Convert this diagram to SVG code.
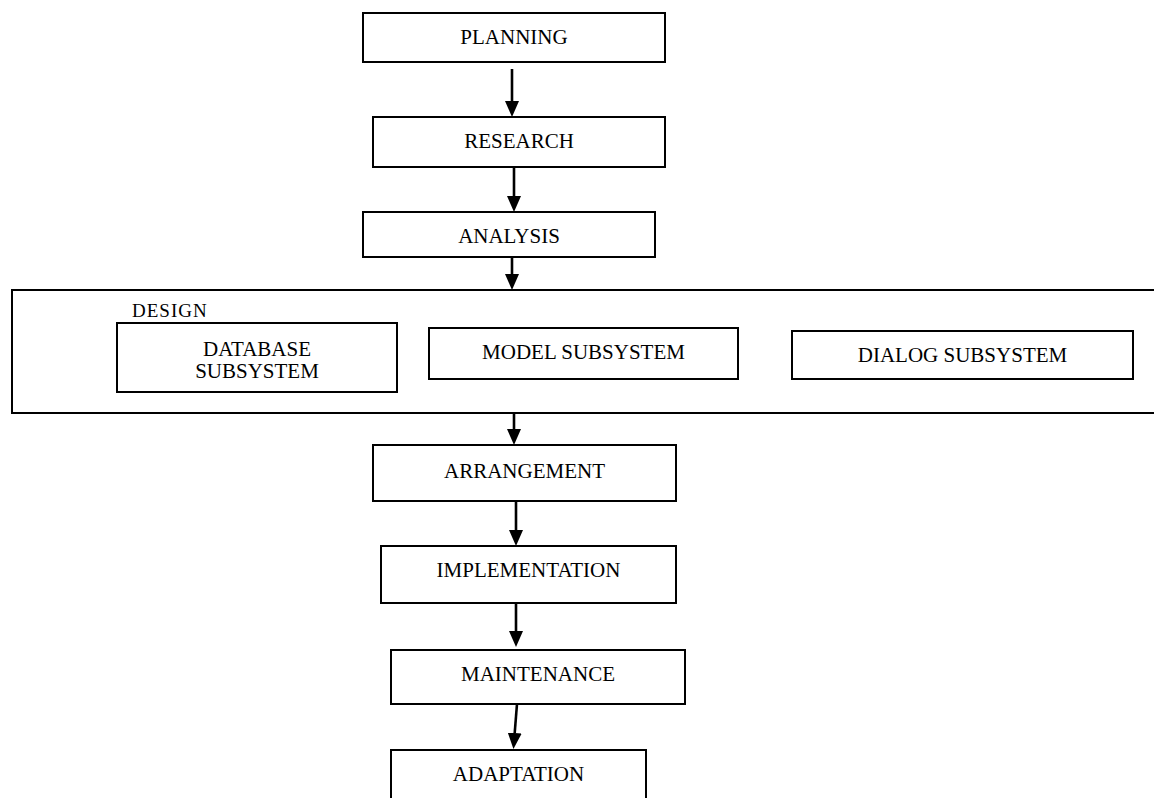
<svg xmlns="http://www.w3.org/2000/svg" width="1154" height="798" viewBox="0 0 1154 798">
<style>
.box{fill:#fff;stroke:#000;stroke-width:2}
.lbl{font-family:"Liberation Serif","Times New Roman",serif;font-size:21px;fill:#000;text-anchor:middle}
.frame{fill:none;stroke:#000;stroke-width:2}
.conn{stroke:#000;stroke-width:2.6;fill:none;marker-end:url(#ah)}
</style>
<defs>
<marker id="ah" markerUnits="userSpaceOnUse" viewBox="0 0 16 14" markerWidth="16" markerHeight="14" refX="0" refY="7" orient="auto">
<path d="M0,0 L16,7 L0,14 z" fill="#000"/>
</marker>
</defs>
<rect width="1154" height="798" fill="#fff"/>

<g id="design">
<path class="frame" d="M1154,290 L12,290 L12,413 L1154,413"/>
<text x="132" y="317" style="font-family:'Liberation Serif','Times New Roman',serif;font-size:19px;letter-spacing:1px">DESIGN</text>
</g>

<g id="planning"><rect class="box" x="363" y="13" width="302" height="49"/><text class="lbl" x="514" y="44">PLANNING</text></g>
<g id="research"><rect class="box" x="373" y="117" width="292" height="50"/><text class="lbl" x="519" y="148">RESEARCH</text></g>
<g id="analysis"><rect class="box" x="363" y="212" width="292" height="45"/><text class="lbl" x="509" y="243">ANALYSIS</text></g>
<g id="database"><rect class="box" x="117" y="323" width="280" height="69"/><text class="lbl" x="257" y="356">DATABASE</text><text class="lbl" x="257" y="378">SUBSYSTEM</text></g>
<g id="model"><rect class="box" x="429" y="328" width="309" height="51"/><text class="lbl" x="583.5" y="359">MODEL SUBSYSTEM</text></g>
<g id="dialog"><rect class="box" x="792" y="331" width="341" height="48"/><text class="lbl" x="962.5" y="362">DIALOG SUBSYSTEM</text></g>
<g id="arrangement"><rect class="box" x="373" y="445" width="303" height="56"/><text class="lbl" x="524.5" y="478">ARRANGEMENT</text></g>
<g id="implementation"><rect class="box" x="381" y="546" width="295" height="57"/><text class="lbl" x="528.5" y="577">IMPLEMENTATION</text></g>
<g id="maintenance"><rect class="box" x="391" y="650" width="294" height="54"/><text class="lbl" x="538" y="681">MAINTENANCE</text></g>
<g id="adaptation"><rect class="box" x="391" y="750" width="255" height="52"/><text class="lbl" x="518.5" y="781">ADAPTATION</text></g>

<g id="connectors">
<line class="conn" x1="512" y1="69" x2="512" y2="101"/>
<line class="conn" x1="514" y1="167" x2="514" y2="196"/>
<line class="conn" x1="512" y1="257" x2="512" y2="274"/>
<line class="conn" x1="514" y1="413" x2="514" y2="429"/>
<line class="conn" x1="516" y1="501" x2="516" y2="530"/>
<line class="conn" x1="516" y1="603" x2="516" y2="631"/>
<line class="conn" x1="517" y1="704" x2="514.7" y2="733"/>
</g>
</svg>
